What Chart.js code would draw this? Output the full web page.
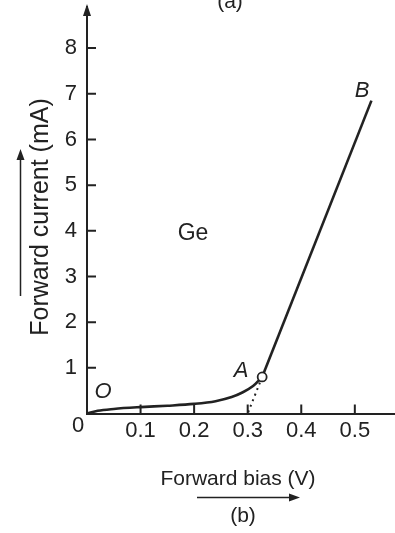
<!DOCTYPE html>
<html>
<head>
<meta charset="utf-8">
<script src="https://cdn.jsdelivr.net/npm/chart.js@4"></script>
<style>
  html, body { margin: 0; padding: 0; background: #fff; }
</style>
</head>
<body>
<canvas id="ivChart" width="395" height="533"></canvas>
<script>
// Ge diode forward characteristic
const kneeV = [0, 0.02, 0.05, 0.1, 0.15, 0.2, 0.24, 0.27, 0.29, 0.31, 0.327];
const kneeMA = [0, 0.06, 0.1, 0.14, 0.17, 0.21, 0.27, 0.36, 0.46, 0.6, 0.8];
const linearV = [0.327, 0.531];
const linearMA = [0.8, 6.85];
const extV = [0.327, 0.30];
const extMA = [0.8, 0];
const xTicks = [0.1, 0.2, 0.3, 0.4, 0.5];
const yTicks = [1, 2, 3, 4, 5, 6, 7, 8];

const ink = '#222';
const fam = "'Liberation Sans', Arial, sans-serif";
const pts = (xs, ys) => xs.map((x, i) => ({ x: x, y: ys[i] }));

const decor = {
  id: 'decor',
  afterDraw(chart) {
    const ctx = chart.ctx;
    const xs = chart.scales.x, ys = chart.scales.y;
    const x0 = xs.getPixelForValue(0), y0 = ys.getPixelForValue(0);
    ctx.save();
    ctx.strokeStyle = ink;
    ctx.fillStyle = ink;
    ctx.lineWidth = 2;
    // inward tick marks
    ctx.beginPath();
    yTicks.forEach(v => {
      const p = ys.getPixelForValue(v);
      ctx.moveTo(x0, p); ctx.lineTo(x0 + 9, p);
    });
    xTicks.forEach(v => {
      const p = xs.getPixelForValue(v);
      ctx.moveTo(p, y0); ctx.lineTo(p, y0 - 9);
    });
    ctx.stroke();
    // arrow on y axis
    const top = chart.chartArea.top;
    ctx.beginPath();
    ctx.moveTo(x0, top - 3); ctx.lineTo(x0 - 4, top + 9); ctx.lineTo(x0 + 4, top + 9);
    ctx.closePath(); ctx.fill();

    // texts
    ctx.textAlign = 'center';
    ctx.textBaseline = 'middle';
    ctx.font = '22px ' + fam;
    ctx.fillText('0', 78, 426);
    ctx.font = '23px ' + fam;
    ctx.fillText('Ge', 193, 234);
    ctx.font = 'italic 22px ' + fam;
    ctx.fillText('O', 103, 392);
    ctx.fillText('A', 241, 371);
    ctx.fillText('B', 362, 91);
    ctx.font = '21px ' + fam;
    ctx.fillText('Forward bias (V)', 238, 479);
    ctx.fillText('(b)', 243, 516);
    ctx.textBaseline = 'alphabetic';
    ctx.fillText('(a)', 230, 8);
    ctx.save();
    ctx.translate(41, 217);
    ctx.rotate(-Math.PI / 2);
    ctx.textBaseline = 'middle';
    ctx.font = '25px ' + fam;
    ctx.fillText('Forward current (mA)', 0, 0);
    ctx.restore();

    // direction arrows next to titles
    ctx.lineWidth = 1.5;
    ctx.beginPath();
    ctx.moveTo(20.5, 296); ctx.lineTo(20.5, 158);
    ctx.moveTo(197, 497.5); ctx.lineTo(291, 497.5);
    ctx.stroke();
    ctx.beginPath();
    ctx.moveTo(20.5, 149); ctx.lineTo(16.5, 160); ctx.lineTo(24.5, 160); ctx.closePath();
    ctx.moveTo(300, 497.5); ctx.lineTo(289, 493.5); ctx.lineTo(289, 501.5); ctx.closePath();
    ctx.fill();
    ctx.restore();
  }
};

new Chart(document.getElementById('ivChart'), {
  type: 'scatter',
  data: {
    datasets: [
      {
        data: pts([0.327], [0.8]),
        pointRadius: 4.5,
        pointBackgroundColor: '#fff',
        pointBorderColor: ink,
        pointBorderWidth: 1.8
      },
      {
        data: pts(kneeV, kneeMA),
        showLine: true,
        borderColor: ink,
        borderWidth: 2.6,
        pointRadius: 0,
        cubicInterpolationMode: 'monotone'
      },
      {
        data: pts(linearV, linearMA),
        showLine: true,
        borderColor: ink,
        borderWidth: 2.6,
        pointRadius: 0
      },
      {
        data: pts(extV, extMA),
        showLine: true,
        borderColor: ink,
        borderWidth: 2,
        borderDash: [2, 4],
        pointRadius: 0
      }
    ]
  },
  options: {
    responsive: false,
    animation: false,
    layout: { autoPadding: false, padding: { top: 7, right: 0, left: 0, bottom: 0 } },
    plugins: { legend: { display: false }, tooltip: { enabled: false } },
    scales: {
      x: {
        type: 'linear',
        min: 0,
        max: 0.575,
        afterBuildTicks: s => { s.ticks = xTicks.map(v => ({ value: v })); },
        afterFit: s => { s.height = 119.5; s.paddingLeft = 0; s.paddingRight = 0; },
        grid: { display: false, drawTicks: false },
        border: { display: true, color: ink, width: 2 },
        ticks: { color: ink, font: { size: 22, family: fam }, padding: 4, maxRotation: 0, callback: v => v.toFixed(1) }
      },
      y: {
        min: 0,
        max: 8.9,
        afterBuildTicks: s => { s.ticks = yTicks.map(v => ({ value: v })); },
        afterFit: s => { s.width = 87; s.paddingTop = 0; s.paddingBottom = 0; },
        grid: { display: false, drawTicks: false },
        border: { display: true, color: ink, width: 2 },
        ticks: { color: ink, font: { size: 22, family: fam }, padding: 10 }
      }
    }
  },
  plugins: [decor]
});
</script>
</body>
</html>
